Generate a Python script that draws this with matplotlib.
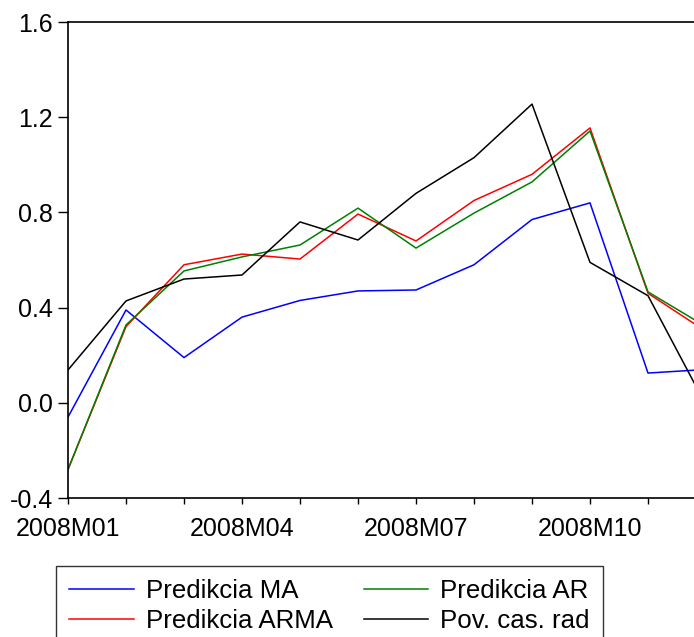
import matplotlib
matplotlib.use('Agg')
from matplotlib import pyplot as plt
import numpy as np

# === DATA === #
Months = ['2008M01', '2008M02', '2008M03', '2008M04', '2008M05', '2008M06',
          '2008M07', '2008M08', '2008M09', '2008M10', '2008M11', '2008M12']
PredMA = [-0.06, 0.39, 0.19, 0.36, 0.43, 0.47, 0.474, 0.58, 0.77, 0.84, 0.125, 0.14]
PredARMA = [-0.28, 0.32, 0.58, 0.625, 0.604, 0.793, 0.68, 0.85, 0.96, 1.155, 0.46, 0.30]
PredAR = [-0.28, 0.327, 0.554, 0.613, 0.663, 0.818, 0.65, 0.797, 0.928, 1.142, 0.466, 0.32]
PovCasRad = [0.138, 0.428, 0.52, 0.537, 0.76, 0.684, 0.88, 1.03, 1.255, 0.59, 0.45, -0.01]
YTicks = [-0.4, 0.0, 0.4, 0.8, 1.2, 1.6]
YTickLabels = ['-0.4', '0.0', '0.4', '0.8', '1.2', '1.6']
XTickIdx = [0, 3, 6, 9]

# === STYLE === #
plt.rcParams['font.family'] = ['Liberation Sans', 'DejaVu Sans']
FontSize = 18
LegendFontSize = 18.6
LineWidth = 1.1

fig = plt.figure(figsize=(6.94, 6.37), dpi=100)
# axis runs past the right edge of the picture, as in the reference
ax = fig.add_axes([68/694, 139/637, 638/694, 476/637])

x = np.arange(len(Months))
hMA, = ax.plot(x, PredMA, color='#0000ff', lw=LineWidth, label='Predikcia MA')
hARMA, = ax.plot(x, PredARMA, color='#ff0000', lw=LineWidth, label='Predikcia ARMA')
hAR, = ax.plot(x, PredAR, color='#008000', lw=LineWidth, label='Predikcia AR')
hPov, = ax.plot(x, PovCasRad, color='black', lw=LineWidth, label='Pov. cas. rad')

ax.set_xlim(0, len(Months) - 1)
ax.set_ylim(-0.4, 1.6)
ax.set_yticks(YTicks)
ax.set_yticklabels(YTickLabels)
ax.set_xticks(XTickIdx)
ax.set_xticklabels([Months[i] for i in XTickIdx])
ax.set_xticks(x, minor=True)
ax.tick_params(axis='y', which='major', direction='out', length=7, width=1,
               labelsize=FontSize, pad=4)
ax.tick_params(axis='x', which='major', direction='out', length=4.5, width=1,
               labelsize=FontSize, pad=9)
ax.tick_params(axis='x', which='minor', direction='out', length=4, width=1)
for s in ax.spines.values():
    s.set_linewidth(1.2)

leg = fig.legend(handles=[hMA, hARMA, hAR, hPov], ncol=2, loc='upper left',
                 bbox_to_anchor=(56/694, 1 - 566/637), fontsize=LegendFontSize,
                 frameon=True, fancybox=False, edgecolor='black',
                 handlelength=2.5, handletextpad=0.47, columnspacing=1.2,
                 labelspacing=0.22, borderpad=0.5, borderaxespad=0)
leg.get_frame().set_linewidth(1.0)

fig.savefig('out.png', dpi=100)
